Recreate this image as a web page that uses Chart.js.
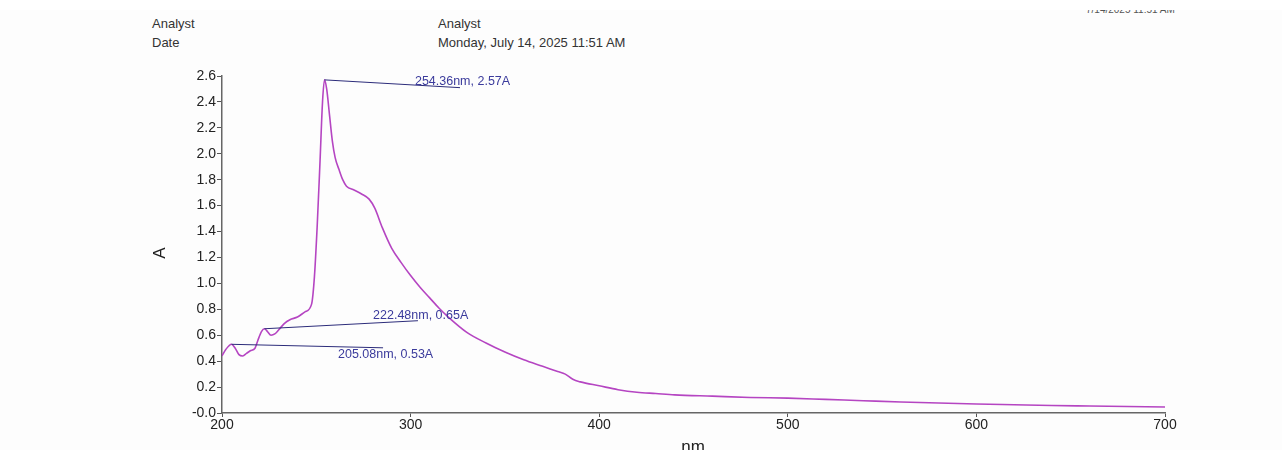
<!DOCTYPE html>
<html>
<head>
<meta charset="utf-8">
<script src="https://cdn.jsdelivr.net/npm/chart.js@4.4.1/dist/chart.umd.min.js"></script>
<style>
  html, body { margin:0; padding:0; background:#ffffff; }
  #wrap { position:relative; width:1282px; height:450px; overflow:hidden; background:#fdfdfd; font-family:"Liberation Sans", Arial, sans-serif; }
  #topband { position:absolute; left:0; top:0; width:1282px; height:10px; background:#ffffff; z-index:3; }
  #clipdate { position:absolute; left:1080px; top:10px; width:140px; height:8px; overflow:hidden; }
  .hdr { position:absolute; font-size:13px; color:#333; line-height:15px; white-space:nowrap; }
  #c { position:absolute; left:0; top:0; }
  #ytitle { position:absolute; left:150px; top:243px; font-size:17px; color:#222; transform:rotate(-90deg); transform-origin:center; width:20px; text-align:center; }
  #xtitle { position:absolute; left:673px; top:437px; width:40px; text-align:center; font-size:17px; color:#222; }
</style>
</head>
<body>
<div id="wrap">
  <div id="topband"></div>
  <div id="clipdate"><div class="hdr" style="left:6px; top:-5px; font-size:10px; line-height:10px; color:#555;">7/14/2025 11:51 AM</div></div>
  <div class="hdr" style="left:152px; top:16px;">Analyst</div>
  <div class="hdr" style="left:152px; top:35px;">Date</div>
  <div class="hdr" style="left:438px; top:16px;">Analyst</div>
  <div class="hdr" style="left:438px; top:35px;">Monday, July 14, 2025 11:51 AM</div>
  <canvas id="c" width="1282" height="450"></canvas>
  <div id="ytitle">A</div>
  <div id="xtitle">nm</div>
</div>
<script>
// Wavelength (nm) and absorbance (A)
const wavelengths = [200,202,205.08,207,209,211,213,215,217.5,219,221,222.48,224,226,228,230,233,236,240,244,247.5,249,250.5,252,253.3,254.36,255.5,257,258.5,260,262,264,266,270,274,278,281,285,290,295,300,305,310,315,320,330,340,350,360,370,378,382,386,390,400,410,420,430,440,460,480,500,520,540,560,580,600,620,640,660,680,700];
const absorbance = [0.44,0.49,0.53,0.50,0.45,0.44,0.46,0.48,0.50,0.56,0.63,0.65,0.63,0.60,0.61,0.64,0.69,0.72,0.74,0.78,0.84,1.05,1.45,1.95,2.40,2.57,2.50,2.30,2.10,1.97,1.88,1.80,1.75,1.72,1.69,1.65,1.58,1.43,1.27,1.16,1.06,0.97,0.89,0.81,0.74,0.62,0.54,0.47,0.41,0.36,0.32,0.30,0.26,0.24,0.21,0.18,0.16,0.15,0.14,0.13,0.12,0.115,0.105,0.095,0.085,0.077,0.07,0.064,0.058,0.054,0.05,0.046];

// Peak annotations: peak position, leader-line end, label anchor
const peakLabels = ["254.36nm, 2.57A", "222.48nm, 0.65A", "205.08nm, 0.53A"];
const peakNm = [254.36, 222.48, 205.08];
const peakA = [2.57, 0.65, 0.53];
const leaderEndNm = [326.2, 303.9, 285.4];
const leaderEndA = [2.51, 0.712, 0.503];
const labelNm = [302.3, 280.1, 261.5];
const labelA = [2.555, 0.75, 0.449];

const xTicks = [200,300,400,500,600,700];

const annotPlugin = {
  id: 'annot',
  afterDatasetsDraw(chart) {
    const ctx = chart.ctx, xs = chart.scales.x, ys = chart.scales.y;
    ctx.save();
    for (let i = 0; i < peakLabels.length; i++) {
      ctx.strokeStyle = '#2c2c7a';
      ctx.lineWidth = 1;
      ctx.beginPath();
      ctx.moveTo(xs.getPixelForValue(peakNm[i]), ys.getPixelForValue(peakA[i]));
      ctx.lineTo(xs.getPixelForValue(leaderEndNm[i]), ys.getPixelForValue(leaderEndA[i]));
      ctx.stroke();
      ctx.fillStyle = '#3b3b9c';
      ctx.font = '12.5px "Liberation Sans", Arial, sans-serif';
      ctx.textBaseline = 'middle';
      ctx.textAlign = 'left';
      ctx.fillText(peakLabels[i], xs.getPixelForValue(labelNm[i]), ys.getPixelForValue(labelA[i]));
    }
    ctx.restore();
  }
};

new Chart(document.getElementById('c'), {
  type: 'line',
  data: {
    datasets: [{
      data: wavelengths.map((w, i) => ({x: w, y: absorbance[i]})),
      borderColor: '#b545c2',
      borderWidth: 1.6,
      pointRadius: 0,
      tension: 0,
      cubicInterpolationMode: 'monotone',
      fill: false
    }]
  },
  options: {
    responsive: false,
    animation: false,
    events: [],
    layout: { padding: { top: 76, right: 117, left: 0, bottom: 0 } },
    plugins: { legend: { display: false }, tooltip: { enabled: false } },
    scales: {
      x: {
        type: 'linear', min: 200, max: 700,
        afterFit(s) { s.height = 37; },
        afterBuildTicks(s) { s.ticks = xTicks.map(v => ({value: v})); },
        grid: { drawOnChartArea: false, drawTicks: true, tickLength: 4, color: '#555' },
        border: { color: '#666', width: 1.5 },
        ticks: { color: '#222', font: { size: 14, family: '"Liberation Sans", Arial' }, padding: 0, maxRotation: 0 }
      },
      y: {
        min: 0, max: 2.6,
        afterFit(s) { s.width = 222; },
        grid: { drawOnChartArea: false, drawTicks: true, tickLength: 5, color: '#555' },
        border: { color: '#666', width: 1.5 },
        ticks: {
          stepSize: 0.2, color: '#222', padding: 1,
          font: { size: 14, family: '"Liberation Sans", Arial' },
          callback: v => (Math.abs(v) < 1e-9 ? '-0.0' : v.toFixed(1))
        }
      }
    }
  },
  plugins: [annotPlugin]
});
</script>
</body>
</html>
